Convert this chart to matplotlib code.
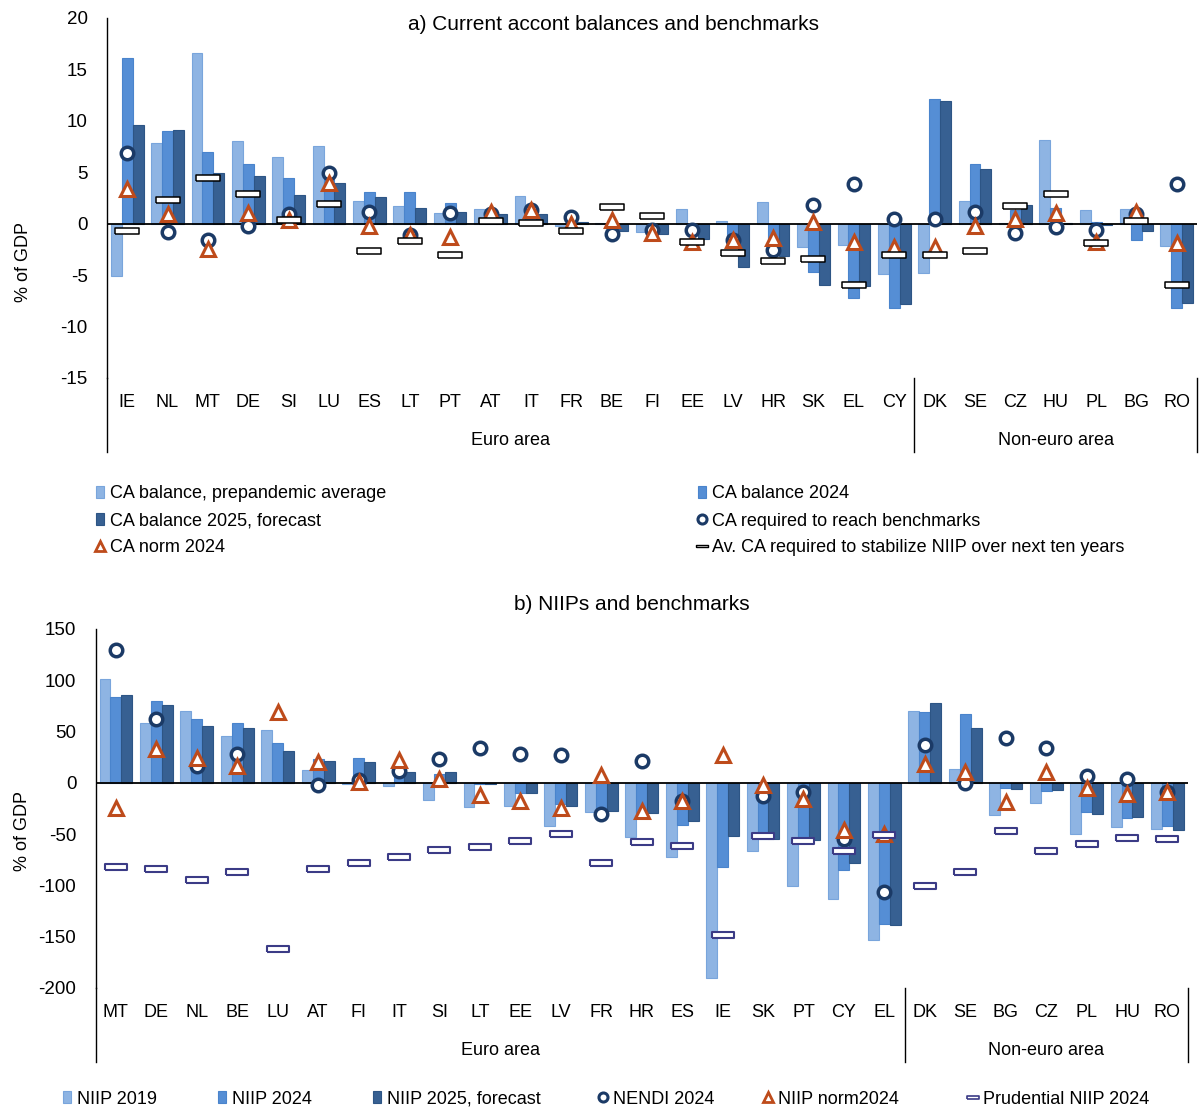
import numpy as np
import matplotlib.pyplot as plt
import matplotlib.transforms as mtransforms
from matplotlib.patches import Patch
from matplotlib.lines import Line2D

plt.rcParams['font.family'] = ['Liberation Sans', 'DejaVu Sans']
plt.rcParams['axes.unicode_minus'] = False

# ---- panel a: current account (% of GDP)
cats_a = ["IE", "NL", "MT", "DE", "SI", "LU", "ES", "LT", "PT", "AT", "IT", "FR", "BE", "FI",
          "EE", "LV", "HR", "SK", "EL", "CY", "DK", "SE", "CZ", "HU", "PL", "BG", "RO"]
ca_pre = [-5.1, 7.8, 16.6, 8.0, 6.5, 7.6, 2.2, 1.7, 1.0, 1.4, 2.65, -0.25, 0.05, -0.85,
          1.4, 0.3, 2.1, -2.3, -2.1, -4.9, -4.8, 2.2, 0.05, 8.1, 1.35, 1.4, -2.2]
ca_2024 = [16.1, 9.0, 7.0, 5.8, 4.4, 4.3, 3.1, 3.1, 2.0, 1.4, 1.5, 0.1, -0.2, -0.6,
           -1.0, -1.5, -2.4, -4.7, -7.2, -8.2, 12.1, 5.8, 1.3, 1.5, 0.2, -1.6, -8.2]
ca_2025 = [9.6, 9.1, 4.9, 4.6, 2.8, 4.0, 2.6, 1.5, 1.15, 0.95, 0.95, 0.15, -0.7, -1.0,
           -1.5, -4.2, -3.1, -6.0, -6.1, -7.8, 11.95, 5.3, 1.8, 0.05, -0.15, -0.7, -7.7]
ca_req = [6.9, -0.8, -1.6, -0.26, 0.9, 4.9, 1.1, -1.05, 1.0, 0.9, 1.3, 0.7, -1.0, -0.6,
          -0.6, -1.6, -2.6, 1.85, 3.85, 0.5, 0.5, 1.15, -0.9, -0.3, -0.6, 0.9, 3.85]
ca_norm = [3.4, 0.9, -2.5, 1.0, 0.4, 4.0, -0.25, -1.1, -1.3, 1.1, 1.3, 0.0, 0.4, -0.9,
           -1.8, -1.6, -1.4, 0.2, -1.8, -2.3, -2.3, -0.25, 0.45, 1.0, -1.8, 1.1, -1.9]
ca_stab = [-0.7, 2.3, 4.4, 2.85, 0.4, 1.9, -2.7, -1.7, -3.0, 0.3, 0.05, -0.7, 1.65, 0.75,
           -1.8, -2.85, -3.6, -3.4, -5.95, -3.05, -3.05, -2.7, 1.7, 2.85, -1.85, 0.25, -5.95]

# ---- panel b: NIIP (% of GDP)
cats_b = ["MT", "DE", "NL", "BE", "LU", "AT", "FI", "IT", "SI", "LT", "EE", "LV", "FR", "HR",
          "ES", "IE", "SK", "PT", "CY", "EL", "DK", "SE", "BG", "CZ", "PL", "HU", "RO"]
niip_2019 = [101.4, 58.7, 69.8, 46, 51.9, 13, -1, -3.3, -16.6, -23.8, -22.5, -41.7, -28.7, -52.8,
             -72.7, -189.8, -66.2, -100.5, -113.5, -153.3, 69.8, 13.7, -31.3, -19.9, -49.9, -43.4, -45]
niip_2024 = [83.8, 79.9, 62.3, 58.4, 39.1, 23.5, 24.5, 13.7, 9, -1, -9.8, -20.5, -27, -29,
             -41.1, -82.2, -55, -55, -84.5, -138, 68.8, 67.5, -4.9, -7.5, -28.7, -34.6, -41.7]
niip_2025 = [86.1, 76, 55.1, 53.2, 31.3, 21.5, 20.5, 10.8, 10.8, -1.6, -9.8, -22.8, -27.4, -29.4,
             -36.9, -52.2, -54.5, -55.4, -78.3, -139, 78.3, 53.5, -6.2, -7.2, -30.3, -32.9, -46]
nendi = [130, 62.6, 16.3, 28.4, np.nan, -2, 3, 12, 23, 33.6, 27.7, 27.4, -30.3, 21.2,
         -17.3, np.nan, -13, -9, -54.8, -106, 36.5, 0, 43.7, 33.6, 6.8, 3.9, -9.1]
niip_norm = [-24.5, 33, 24, 16, 69, 20, 1.3, 22, 4, -11.7, -18, -24.8, 8, -27.7,
             -17.3, 27.4, -2, -16, -45.7, -50, 18.6, 10.4, -19, 10.4, -5.2, -10.8, -9.1]
prudential = [-82, -84, -95, -86.8, -162.4, -83.5, -78.3, -72.4, -65.6, -62.3, -57, -50.2, -78, -57.7,
              -62, -148, -52.2, -57, -66.9, -51.2, -100.1, -86.8, -46.6, -66.5, -59.7, -53.8, -54.5]

n_euro = 20

W, H = 1201, 1111
fig = plt.figure(figsize=(W / 100, H / 100), dpi=100)

light, mid, dark = '#8EB4E3', '#558ED5', '#376092'
light_e, mid_e, dark_e = '#79A5DC', '#4A84CC', '#2D5585'
navy, rust, purple = '#1B3A66', '#BE4B1B', '#3B3B86'

dash_a = [(-1, -0.23), (1, -0.23), (1, 0.23), (-1, 0.23), (-1, -0.23)]
dash_b = [(-1, -0.27), (1, -0.27), (1, 0.27), (-1, 0.27), (-1, -0.27)]


def panel(ax, cats, pre, cur, fc, circ, tri, dash, dash_marker, dash_ms, dash_ec, dash_ew,
          yticks):
    x = np.arange(len(cats))
    w = 0.27
    ax.bar(x - w, pre, w, color=light, edgecolor=light_e, lw=0.8, zorder=2)
    ax.bar(x, cur, w, color=mid, edgecolor=mid_e, lw=0.8, zorder=2)
    ax.bar(x + w, fc, w, color=dark, edgecolor=dark_e, lw=0.8, zorder=2)
    ax.axhline(0, color='black', lw=1.3, zorder=3)
    ax.plot(x, circ, 'o', ms=9, mfc='white', mec=navy, mew=2.5, ls='none', zorder=4)
    ax.plot(x, tri, '^', ms=10, mfc='white', mec=rust, mew=2.2, ls='none', zorder=5)
    ax.plot(x, dash, marker=dash_marker, ms=dash_ms, mfc='white', mec=dash_ec, mew=dash_ew,
            ls='none', zorder=6)

    ax.set_xlim(-0.5, len(cats) - 0.5)
    ax.set_ylim(yticks[0], yticks[-1])
    ax.set_yticks(yticks)
    ax.set_xticks(x)
    ax.set_xticklabels(cats)
    ax.tick_params(axis='y', length=0, pad=14, labelsize=13.5)
    ax.tick_params(axis='x', length=0, pad=11.5, labelsize=13)
    for s in ['top', 'right', 'bottom']:
        ax.spines[s].set_visible(False)
    ax.spines['left'].set_color('black')
    ax.spines['left'].set_linewidth(1.0)
    ax.set_ylabel('% of GDP', fontsize=13)

    # category group brackets below the axis
    trans = mtransforms.blended_transform_factory(ax.transData, ax.transAxes)
    for xv in [-0.5, n_euro - 0.5, len(cats) - 0.5]:
        ax.plot([xv, xv], [0, -0.206], transform=trans, color='black', lw=1.0, clip_on=False)
    ax.text((n_euro - 1) / 2, -0.174, 'Euro area', transform=trans, ha='center', va='center',
            fontsize=13)
    ax.text((n_euro + len(cats) - 1) / 2, -0.174, 'Non-euro area', transform=trans,
            ha='center', va='center', fontsize=13)


ax1 = fig.add_axes([107 / W, 1 - 378 / H, 1090 / W, 360 / H])
panel(ax1, cats_a, ca_pre, ca_2024, ca_2025, ca_req, ca_norm, ca_stab,
      dash_a, 17.6, 'black', 1.1, list(range(-15, 21, 5)))
ax1.yaxis.set_label_coords(-0.069, 0.322)

ax2 = fig.add_axes([95.7 / W, 1 - 988 / H, 1092 / W, 359 / H])
panel(ax2, cats_b, niip_2019, niip_2024, niip_2025, nendi, niip_norm, prudential,
      dash_b, 15.8, purple, 1.5, list(range(-200, 151, 50)))
ax2.yaxis.set_label_coords(-0.059, 0.438)

fig.text(613 / W, 1 - 25 / H, 'a) Current accont balances and benchmarks', ha='center',
         va='center', fontsize=15)
fig.text(632 / W, 1 - 605 / H, 'b) NIIPs and benchmarks', ha='center', va='center',
         fontsize=15)


def key(handle, label, xm, ym):
    fig.legend([handle], [label], loc='center left',
               bbox_to_anchor=((xm - 4) / W, 1 - ym / H), frameon=False, fontsize=13,
               handlelength=0.45, handleheight=0.65, handletextpad=0.35,
               borderpad=0, borderaxespad=0)


sq = dict(lw=0.8)
h_circ = Line2D([], [], marker='o', ls='none', ms=6.5, mfc='white', mec=navy, mew=2.2)
h_tri = Line2D([], [], marker='^', ls='none', ms=7.5, mfc='white', mec=rust, mew=2.0)
h_dash_a = Line2D([], [], marker=dash_a, ls='none', ms=8, mfc='white', mec='black', mew=1.0)
h_dash_b = Line2D([], [], marker=dash_b, ls='none', ms=8, mfc='white', mec=purple, mew=1.2)

key(Patch(facecolor=light, edgecolor=light_e, **sq), 'CA balance, prepandemic average', 100, 494)
key(Patch(facecolor=mid, edgecolor=mid_e, **sq), 'CA balance 2024', 702, 494)
key(Patch(facecolor=dark, edgecolor=dark_e, **sq), 'CA balance 2025, forecast', 100, 521)
key(h_circ, 'CA required to reach benchmarks', 702, 521)
key(h_tri, 'CA norm 2024', 100, 548)
key(h_dash_a, 'Av. CA required to stabilize NIIP over next ten years', 702, 548)

key(Patch(facecolor=light, edgecolor=light_e, **sq), 'NIIP 2019', 67, 1099)
key(Patch(facecolor=mid, edgecolor=mid_e, **sq), 'NIIP 2024', 222, 1099)
key(Patch(facecolor=dark, edgecolor=dark_e, **sq), 'NIIP 2025, forecast', 377, 1099)
key(h_circ, 'NENDI 2024', 603, 1099)
key(h_tri, 'NIIP norm2024', 768, 1099)
key(h_dash_b, 'Prudential NIIP 2024', 973, 1099)

plt.savefig('out.png', dpi=100)
